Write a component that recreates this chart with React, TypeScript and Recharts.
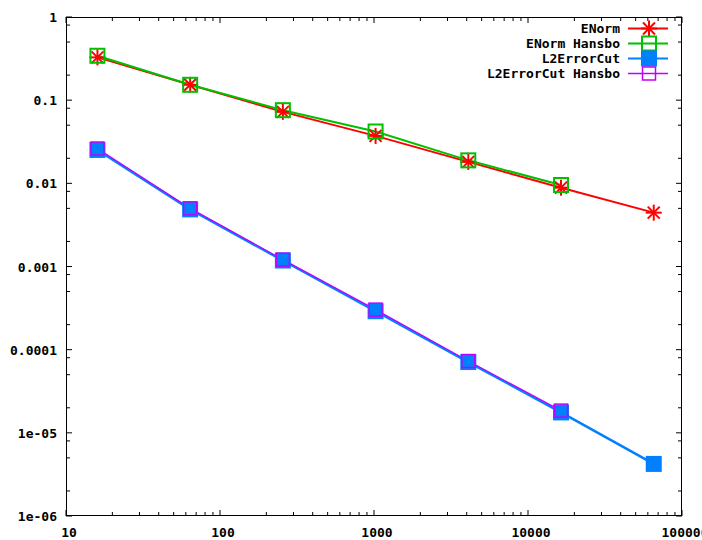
import React from 'react';
import { ComposedChart, Line, XAxis, YAxis } from 'recharts';

const W = 702;
const H = 540;
const PLOT_LEFT = 66;
const PLOT_RIGHT = 682;
const PLOT_TOP = 17;
const PLOT_BOTTOM = 516;

// ---- data ----
const xValues = [16, 64, 256, 1024, 4096, 16384, 65536];
const eNorm = [0.327, 0.153, 0.0723, 0.0372, 0.0181, 0.00887, 0.00444];
const eNormHansbo = [0.342, 0.153, 0.0758, 0.042, 0.0189, 0.00955];
const l2ErrorCut = [0.0252, 0.00486, 0.00118, 0.00029, 7.1e-5, 1.76e-5, 4.23e-6];
const l2ErrorCutHansbo = [0.0262, 0.005, 0.00121, 0.000303, 7.3e-5, 1.85e-5];

const seriesNames = ['ENorm', 'ENorm Hansbo', 'L2ErrorCut', 'L2ErrorCut Hansbo'];
const seriesColors = ['#ff0000', '#00c000', '#0080ff', '#c000ff'];

const xMajorTicks = [10, 100, 1000, 10000, 100000];
const xMinorMultipliers = [2, 3, 4, 5, 6, 7, 8, 9];
const yMajorTicks = [1e-6, 1e-5, 1e-4, 1e-3, 0.01, 0.1, 1];
const yMinorMultipliers = [2, 5, 8];
const yTickLabels = ['1e-06', '1e-05', '0.0001', '0.001', '0.01', '0.1', '1'];
const xTickLabels = ['10', '100', '1000', '10000', '100000'];

const xTicks: number[] = [];
xMajorTicks.forEach((m, i) => {
  xTicks.push(m);
  if (i < xMajorTicks.length - 1) xMinorMultipliers.forEach((k) => xTicks.push(m * k));
});
const yTicks: number[] = [];
yMajorTicks.forEach((m, i) => {
  yTicks.push(m);
  if (i < yMajorTicks.length - 1) yMinorMultipliers.forEach((k) => yTicks.push(m * k));
});

const toPoints = (ys: number[]) => ys.map((y, i) => ({ x: xValues[i], y }));

const FONT = "'DejaVu Sans Mono', 'Liberation Mono', monospace";

const XTick = (props: any) => {
  const { x, payload } = props;
  const v = payload.value;
  const idx = xMajorTicks.findIndex((m) => Math.abs(v - m) / m < 1e-9);
  const major = idx >= 0;
  const len = major ? 6 : 4;
  return (
    <g>
      <line x1={x} x2={x} y1={PLOT_BOTTOM} y2={PLOT_BOTTOM - len} stroke="#000" />
      <line x1={x} x2={x} y1={PLOT_TOP} y2={PLOT_TOP + len} stroke="#000" />
      {major && (
        <text x={x + 3} y={PLOT_BOTTOM + 21} textAnchor="middle" fontFamily={FONT} fontWeight="bold" fontSize={13} fill="#000">
          {xTickLabels[idx]}
        </text>
      )}
    </g>
  );
};

const YTick = (props: any) => {
  const { y, payload } = props;
  const v = payload.value;
  const idx = yMajorTicks.findIndex((m) => Math.abs(v - m) / m < 1e-9);
  const major = idx >= 0;
  const len = major ? 6 : 4;
  return (
    <g>
      <line x1={PLOT_LEFT} x2={PLOT_LEFT + len} y1={y} y2={y} stroke="#000" />
      <line x1={PLOT_RIGHT - len} x2={PLOT_RIGHT} y1={y} y2={y} stroke="#000" />
      {major && (
        <text x={PLOT_LEFT - 9} y={y + 5} textAnchor="end" fontFamily={FONT} fontWeight="bold" fontSize={13} fill="#000">
          {yTickLabels[idx]}
        </text>
      )}
    </g>
  );
};

const Star = ({ cx, cy, color }: any) => {
  const s = 8;
  const d = 6;
  return (
    <g stroke={color} strokeWidth={2}>
      <line x1={cx - s} x2={cx + s} y1={cy} y2={cy} />
      <line x1={cx} x2={cx} y1={cy - s} y2={cy + s} />
      <line x1={cx - d} x2={cx + d} y1={cy - d} y2={cy + d} />
      <line x1={cx - d} x2={cx + d} y1={cy + d} y2={cy - d} />
    </g>
  );
};

const OpenSquare = ({ cx, cy, color, size, sw }: any) => (
  <rect x={cx - size / 2} y={cy - size / 2} width={size} height={size} fill="none" stroke={color} strokeWidth={sw} />
);
const FilledSquare = ({ cx, cy, color, size }: any) => (
  <rect x={cx - size / 2} y={cy - size / 2} width={size} height={size} fill={color} stroke="none" />
);

const markerFor = (i: number, cx: number, cy: number) => {
  const c = seriesColors[i];
  if (i === 0) return <Star cx={cx} cy={cy} color={c} />;
  if (i === 1) return <OpenSquare cx={cx} cy={cy} color={c} size={14} sw={2} />;
  if (i === 2) return <FilledSquare cx={cx} cy={cy} color={c} size={16} />;
  return <OpenSquare cx={cx} cy={cy} color={c} size={13} sw={1.5} />;
};

const makeDot = (i: number) => (props: any) => {
  const { cx, cy, index } = props;
  if (cx == null || cy == null) return <g key={`d${i}-${index}`} />;
  return <g key={`d${i}-${index}`}>{markerFor(i, cx, cy)}</g>;
};

const seriesData = [eNorm, eNormHansbo, l2ErrorCut, l2ErrorCutHansbo];
const lineWidths = [2, 2, 2.5, 1.2];

const Overlay = () => {
  const rows = [28.5, 43.5, 58.5, 73.5];
  return (
    <svg width={W} height={H} style={{ position: 'absolute', left: 0, top: 0, pointerEvents: 'none' }}>
      <rect
        x={PLOT_LEFT + 0.5}
        y={PLOT_TOP + 0.5}
        width={PLOT_RIGHT - PLOT_LEFT - 1}
        height={PLOT_BOTTOM - PLOT_TOP - 1}
        fill="none"
        stroke="#000"
        strokeWidth={1}
      />
      {seriesNames.map((name, i) => (
        <g key={name}>
          <text x={620} y={rows[i] + 4.5} textAnchor="end" fontFamily={FONT} fontWeight="bold" fontSize={13} fill="#000">
            {name}
          </text>
          <line x1={628} x2={668} y1={rows[i]} y2={rows[i]} stroke={seriesColors[i]} strokeWidth={lineWidths[i] < 2 ? 1.5 : 2} />
          {markerFor(i, 649, rows[i])}
        </g>
      ))}
    </svg>
  );
};

export default function App() {
  return (
    <div style={{ position: 'absolute', left: 0, top: 0, width: W, height: H, background: '#fff' }}>
      <ComposedChart width={W} height={H} margin={{ top: PLOT_TOP, right: W - PLOT_RIGHT, bottom: 0, left: PLOT_LEFT - 60 }}>
        <XAxis
          xAxisId="b"
          type="number"
          dataKey="x"
          scale="log"
          domain={[10, 100000]}
          ticks={xTicks}
          interval={0}
          tick={<XTick />}
          tickLine={false}
          axisLine={false}
          height={H - PLOT_BOTTOM}
          allowDataOverflow
        />
        <YAxis
          yAxisId="l"
          type="number"
          dataKey="y"
          scale="log"
          domain={[1e-6, 1]}
          ticks={yTicks}
          interval={0}
          tick={<YTick />}
          tickLine={false}
          axisLine={false}
          width={60}
          allowDataOverflow
        />
        {seriesData.map((ys, i) => (
          <Line
            key={seriesNames[i]}
            xAxisId="b"
            yAxisId="l"
            data={toPoints(ys)}
            dataKey="y"
            name={seriesNames[i]}
            type="linear"
            stroke={seriesColors[i]}
            strokeWidth={lineWidths[i]}
            dot={makeDot(i)}
            activeDot={false}
            isAnimationActive={false}
          />
        ))}
      </ComposedChart>
      <Overlay />
    </div>
  );
}
